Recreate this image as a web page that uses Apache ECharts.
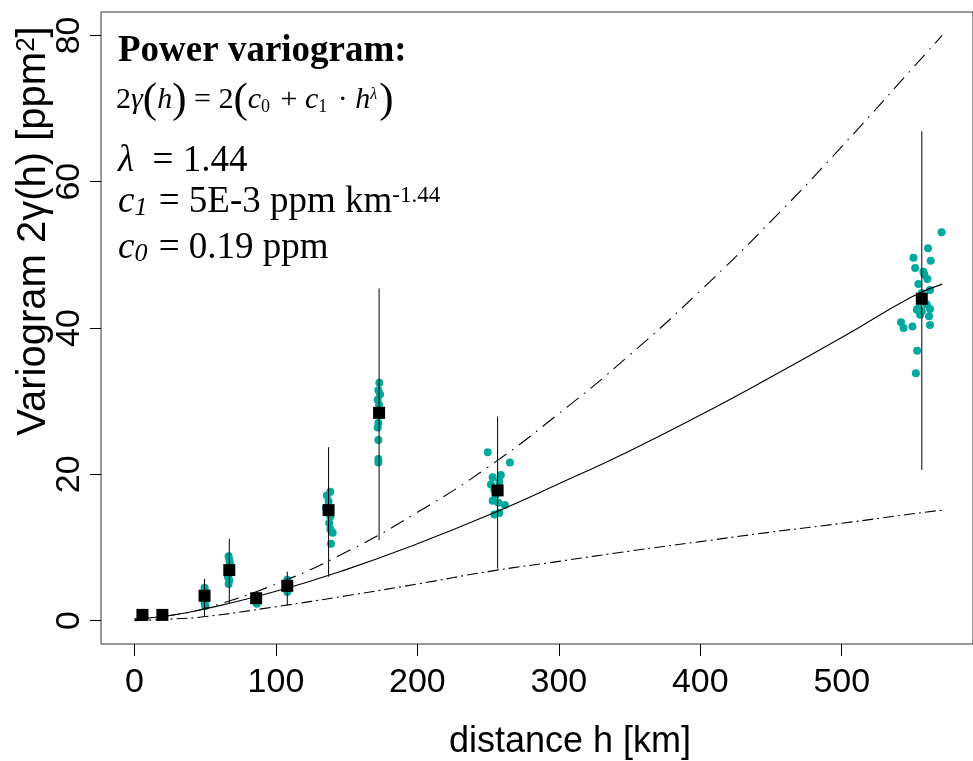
<!DOCTYPE html>
<html>
<head>
<meta charset="utf-8">
<script src="https://cdn.jsdelivr.net/npm/echarts@6/dist/echarts.min.js"></script>
<style>
  html, body { margin: 0; padding: 0; background: #fff; }
  #myChart { width: 973px; height: 761px; }
</style>
</head>
<body>
<div id="myChart"></div>
<script>
// distance ticks / variogram ticks
var xTicks = [0, 100, 200, 300, 400, 500];
var yTicks = [0, 20, 40, 60, 80];

// model curves (h in km, value in ppm^2)
var curveH = [0, 25, 50, 100, 150, 200, 250, 300, 350, 400, 450, 500, 550, 571];
var fitCurve = [0.2, 0.7, 1.6, 4.0, 7.0, 10.5, 14.4, 18.7, 23.2, 28.1, 33.3, 38.7, 44.3, 46.0];
var upperCurve = [0.2, 0.7, 1.7, 5.0, 9.4, 14.8, 21.0, 28.3, 36.3, 45.1, 54.6, 64.8, 75.5, 80.0];
var lowerCurve = [0.0, 0.2, 0.55, 1.9, 3.4, 5.0, 6.7, 8.1, 9.5, 10.8, 12.1, 13.3, 14.6, 15.1];

// binned means with min/max range
var binH = [5.6, 19.7, 49.5, 67, 86, 108, 137.2, 172.9, 256.7, 556.6];
var binMean = [0.78, 0.78, 3.4, 6.9, 3.06, 4.75, 15.1, 28.4, 17.8, 44.0];
var binLow = [0.4, 0.4, 0.5, 2.3, 2.4, 2.1, 6.0, 11.0, 7.1, 20.6];
var binHigh = [1.0, 1.0, 5.7, 11.2, 3.6, 6.7, 23.7, 45.4, 27.9, 66.9];

// individual pair values (jittered in h)
var pairH = [
  49.5, 50, 49, 50.5, 49.5, 50,
  66.5, 67, 67.5, 66.5, 67, 66, 67, 66.5,
  86, 85.5, 86.5,
  108, 107.5, 108.5, 108,
  138.4, 136.0, 137.2, 135.3, 138.4, 137.7, 138.4, 140.1, 138.9,
  173.1, 172.4, 173.6, 171.9, 172.9, 172.4, 171.9, 172.4, 172.4, 172.4,
  249.7, 265.4, 253.2, 259.0, 252.0, 257.9, 254.4, 253.2, 257.2, 261.8, 254.4, 257.9, 255.5,
  570.6, 561, 550.7, 562.9, 551.9, 557.7, 558.4, 560.5, 554.2, 562.4, 556.6, 554.2, 556.6,
  562.4, 555.4, 561.7, 541.9, 543.7, 550.0, 562.4, 553.3, 552.4, 553.1, 560.1
];
var pairV = [
  4.5, 4.0, 3.6, 2.8, 2.4, 2.0,
  8.8, 8.3, 7.8, 7.3, 6.5, 6.0, 5.5, 5.0,
  3.4, 2.7, 2.3,
  5.6, 5.0, 4.3, 3.9,
  17.6, 17.1, 16.3, 15.4, 14.2, 13.3, 12.5, 12.0, 10.5,
  32.5, 31.5, 30.9, 30.2, 29.5, 27.0, 26.4, 24.7, 22.1, 21.6,
  23.0, 21.6, 19.6, 19.9, 18.6, 19.0, 17.9, 16.4, 16.1, 15.8, 14.5, 14.7, 17.2,
  53.1, 50.9, 49.6, 49.2, 48.2, 47.7, 47.3, 46.7, 46.0, 45.2, 44.8, 42.7, 42.3,
  42.6, 41.8, 41.6, 40.8, 40.0, 40.2, 40.4, 36.9, 33.8, 42.5, 43.2
];

function zip(a, b) {
  var out = [];
  for (var i = 0; i < a.length; i++) out.push([a[i], b[i]]);
  return out;
}

var errData = [];
for (var i = 0; i < binH.length; i++) errData.push([binH[i], binLow[i], binHigh[i]]);

var sans = '"Liberation Sans", Arial, sans-serif';
var serif = '"Liberation Serif", "Times New Roman", serif';

var myChart = echarts.init(document.getElementById('myChart'));
var option = {
  animation: false,
  backgroundColor: '#fff',
  grid: {
    left: 101, top: 12, bottom: 117, right: -5,
    show: true, borderColor: '#333', borderWidth: 1
  },
  xAxis: {
    type: 'value',
    min: -23.7, max: 592.8,
    axisLine: { show: false, onZero: false },
    splitLine: { show: false },
    axisTick: { show: true, length: 12, lineStyle: { color: '#000' }, customValues: xTicks },
    axisLabel: { color: '#000', fontSize: 34, fontFamily: sans, margin: 22, customValues: xTicks }
  },
  yAxis: {
    type: 'value',
    min: -3.2, max: 83.2,
    axisLine: { show: false, onZero: false },
    splitLine: { show: false },
    axisTick: { show: true, length: 11, lineStyle: { color: '#000' }, customValues: yTicks },
    axisLabel: { color: '#000', fontSize: 34, fontFamily: sans, rotate: 90, margin: 14, customValues: yTicks }
  },
  series: [
    {
      name: 'pairs',
      type: 'scatter',
      data: zip(pairH, pairV),
      symbol: 'circle',
      symbolSize: 8,
      itemStyle: { color: '#00A99D', opacity: 1 },
      z: 2
    },
    {
      name: 'range',
      type: 'custom',
      data: errData,
      renderItem: function (params, api) {
        var lo = api.coord([api.value(0), api.value(1)]);
        var hi = api.coord([api.value(0), api.value(2)]);
        return {
          type: 'line',
          shape: { x1: lo[0], y1: lo[1], x2: hi[0], y2: hi[1] },
          style: { stroke: '#000', lineWidth: 1 }
        };
      },
      z: 3
    },
    {
      name: 'fit',
      type: 'line',
      data: zip(curveH, fitCurve),
      smooth: true,
      showSymbol: false,
      lineStyle: { color: '#000', width: 1.1 },
      z: 3
    },
    {
      name: 'upper',
      type: 'line',
      data: zip(curveH, upperCurve),
      smooth: true,
      showSymbol: false,
      lineStyle: { color: '#000', width: 1.1, type: [15, 7, 1.5, 7] },
      z: 3
    },
    {
      name: 'lower',
      type: 'line',
      data: zip(curveH, lowerCurve),
      smooth: true,
      showSymbol: false,
      lineStyle: { color: '#000', width: 1.1, type: [11, 4, 2, 4] },
      z: 3
    },
    {
      name: 'mean',
      type: 'scatter',
      data: zip(binH, binMean),
      symbol: 'rect',
      symbolSize: 12,
      itemStyle: { color: '#000', opacity: 1 },
      z: 4
    }
  ],
  graphic: [
    {
      type: 'text', left: 118, top: 33,
      style: { text: 'Power variogram:', fill: '#000', font: 'bold 37px ' + serif }
    },
    {
      type: 'text', left: 116, top: 79,
      style: {
        text: '{n|2}{i|γ}{p|(}{i|h}{p|)}{n| = 2}{p|(}{i|c}{s|0}{n| + }{i|c}{s|1}{n| · }{i|h}{u|λ}{p|)}',
        fill: '#000',
        rich: {
          n: { fontFamily: serif, fontSize: 30, fill: '#000', verticalAlign: 'middle' },
          i: { fontFamily: serif, fontStyle: 'italic', fontSize: 30, fill: '#000', verticalAlign: 'middle' },
          p: { fontFamily: serif, fontSize: 43, fill: '#000', verticalAlign: 'middle' },
          s: { fontFamily: serif, fontSize: 18, fill: '#000', verticalAlign: 'bottom', padding: [0, 3, 6, 0] },
          u: { fontFamily: serif, fontStyle: 'italic', fontSize: 16, fill: '#000', verticalAlign: 'top', padding: [8, 2, 0, 0] }
        }
      }
    },
    {
      type: 'text', left: 118, top: 143,
      style: {
        text: '{i|λ}{n|  = 1.44}',
        rich: {
          n: { fontFamily: serif, fontSize: 37, fill: '#000' },
          i: { fontFamily: serif, fontStyle: 'italic', fontSize: 37, fill: '#000' }
        }
      }
    },
    {
      type: 'text', left: 118, top: 184,
      style: {
        text: '{i|c}{s|1}{n| = 5E-3 ppm km}{u|-1.44}',
        rich: {
          n: { fontFamily: serif, fontSize: 37, fill: '#000', verticalAlign: 'middle' },
          i: { fontFamily: serif, fontStyle: 'italic', fontSize: 37, fill: '#000', verticalAlign: 'middle' },
          s: { fontFamily: serif, fontStyle: 'italic', fontSize: 26, fill: '#000', verticalAlign: 'bottom', padding: [0, 2, 0, 0] },
          u: { fontFamily: serif, fontSize: 23, fill: '#000', verticalAlign: 'top' }
        }
      }
    },
    {
      type: 'text', left: 118, top: 230,
      style: {
        text: '{i|c}{s|0}{n| = 0.19 ppm}',
        rich: {
          n: { fontFamily: serif, fontSize: 37, fill: '#000', verticalAlign: 'middle' },
          i: { fontFamily: serif, fontStyle: 'italic', fontSize: 37, fill: '#000', verticalAlign: 'middle' },
          s: { fontFamily: serif, fontStyle: 'italic', fontSize: 26, fill: '#000', verticalAlign: 'bottom', padding: [0, 2, 0, 0] }
        }
      }
    },
    {
      type: 'text', x: 570, y: 742,
      style: { text: 'distance h [km]', fill: '#000', font: '36px ' + sans, textAlign: 'center', textVerticalAlign: 'middle' }
    },
    {
      type: 'text', x: 34, y: 231, rotation: Math.PI / 2,
      style: {
        text: '{n|Variogram 2γ(h) [ppm}{u|2}{n|]}',
        textAlign: 'center', textVerticalAlign: 'middle',
        rich: {
          n: { fontFamily: sans, fontSize: 40, fill: '#000', verticalAlign: 'middle' },
          u: { fontFamily: sans, fontSize: 26, fill: '#000', verticalAlign: 'top' }
        }
      }
    }
  ]
};
myChart.setOption(option);
</script>
</body>
</html>
